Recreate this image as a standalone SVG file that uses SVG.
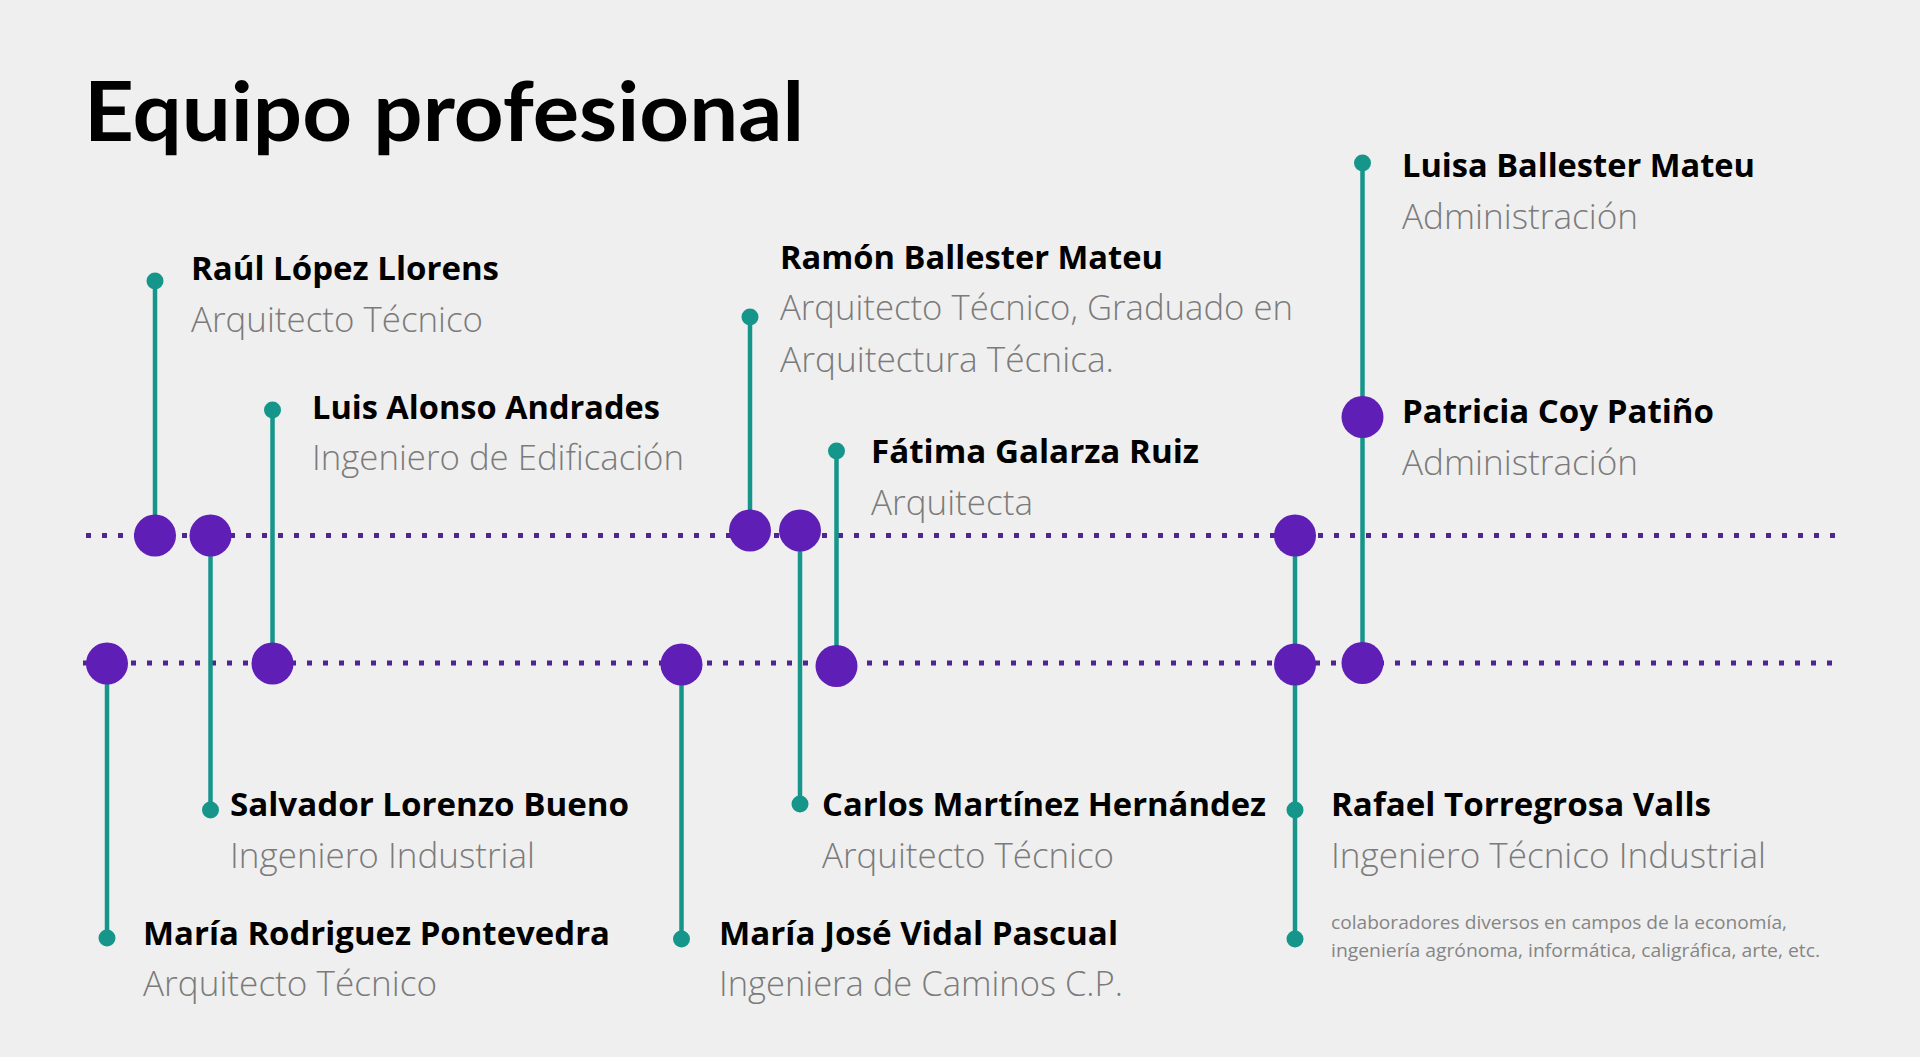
<svg xmlns="http://www.w3.org/2000/svg" width="1920" height="1057" viewBox="0 0 1920 1057">
<style>
.bg{fill:#efefef}
.title{font-family:"Lato","Open Sans","Liberation Sans",sans-serif;font-weight:700;font-size:83px;fill:#000}
.name{font-family:"Open Sans","Noto Sans","Liberation Sans",sans-serif;font-weight:700;font-size:31.5px;fill:#000}
.role{font-family:"Open Sans","Noto Sans","Liberation Sans",sans-serif;font-weight:300;font-size:34px;fill:#7b7b7b}
.note{font-family:"Open Sans","Noto Sans","Liberation Sans",sans-serif;font-weight:400;font-size:18.5px;fill:#858585}
.dots{stroke:#4f2590;stroke-width:5;stroke-dasharray:5 11;fill:none}
.stem{stroke:#16968a;stroke-width:4.5;fill:none}
.big{fill:#5f1eb5}
.small{fill:#16968a}
</style>
<rect class="bg" x="0" y="0" width="1920" height="1057"/>
<text id="title" class="title" x="84" y="141" textLength="720" lengthAdjust="spacingAndGlyphs">Equipo profesional</text>
<g id="connectors">
<line class="dots" x1="86" y1="535.5" x2="1836" y2="535.5"/>
<line class="dots" x1="83" y1="663" x2="1832" y2="663"/>
<line class="stem" x1="155" y1="281" x2="155" y2="535"/>
<line class="stem" x1="210.5" y1="535" x2="210.5" y2="810"/>
<line class="stem" x1="272.5" y1="410" x2="272.5" y2="663"/>
<line class="stem" x1="107" y1="663" x2="107" y2="938"/>
<line class="stem" x1="681.5" y1="664" x2="681.5" y2="939"/>
<line class="stem" x1="750" y1="317" x2="750" y2="530"/>
<line class="stem" x1="800" y1="530" x2="800" y2="804"/>
<line class="stem" x1="836.5" y1="451" x2="836.5" y2="666"/>
<line class="stem" x1="1295" y1="535.5" x2="1295" y2="939"/>
<line class="stem" x1="1362.5" y1="163" x2="1362.5" y2="663"/>
</g>
<g id="node-raul">
<circle class="small" cx="155" cy="281" r="8.5"/>
<circle class="big" cx="155" cy="535.5" r="21"/>
<text class="name" x="191" y="280" textLength="308" lengthAdjust="spacingAndGlyphs">Raúl López Llorens</text>
<text class="role" x="191" y="331.5" textLength="292" lengthAdjust="spacingAndGlyphs">Arquitecto Técnico</text>
</g>
<g id="node-salvador">
<circle class="big" cx="210.5" cy="535.5" r="21"/>
<circle class="small" cx="210.5" cy="810" r="8.5"/>
<text class="name" x="230" y="816" textLength="399" lengthAdjust="spacingAndGlyphs">Salvador Lorenzo Bueno</text>
<text class="role" x="230" y="868" textLength="305" lengthAdjust="spacingAndGlyphs">Ingeniero Industrial</text>
</g>
<g id="node-luis">
<circle class="small" cx="272.5" cy="410" r="8.5"/>
<circle class="big" cx="272.5" cy="663.5" r="21"/>
<text class="name" x="312" y="419" textLength="348" lengthAdjust="spacingAndGlyphs">Luis Alonso Andrades</text>
<text class="role" x="312" y="470" textLength="372" lengthAdjust="spacingAndGlyphs">Ingeniero de Edificación</text>
</g>
<g id="node-maria-rodriguez">
<circle class="big" cx="107" cy="663.5" r="21"/>
<circle class="small" cx="107" cy="938" r="8.5"/>
<text class="name" x="143" y="944.5" textLength="467" lengthAdjust="spacingAndGlyphs">María Rodriguez Pontevedra</text>
<text class="role" x="143" y="996" textLength="294" lengthAdjust="spacingAndGlyphs">Arquitecto Técnico</text>
</g>
<g id="node-maria-jose">
<circle class="big" cx="681.5" cy="664.5" r="21"/>
<circle class="small" cx="681.5" cy="939" r="8.5"/>
<text class="name" x="719" y="944.5" textLength="399" lengthAdjust="spacingAndGlyphs">María José Vidal Pascual</text>
<text class="role" x="719" y="996" textLength="404" lengthAdjust="spacingAndGlyphs">Ingeniera de Caminos C.P.</text>
</g>
<g id="node-ramon">
<circle class="small" cx="750" cy="317" r="8.5"/>
<circle class="big" cx="750" cy="530.5" r="21"/>
<text class="name" x="780" y="268.5" textLength="383" lengthAdjust="spacingAndGlyphs">Ramón Ballester Mateu</text>
<text class="role" x="780" y="320" textLength="513" lengthAdjust="spacingAndGlyphs">Arquitecto Técnico, Graduado en</text>
<text class="role" x="780" y="372" textLength="334" lengthAdjust="spacingAndGlyphs">Arquitectura Técnica.</text>
</g>
<g id="node-carlos">
<circle class="big" cx="800" cy="530.5" r="21"/>
<circle class="small" cx="800" cy="804" r="8.5"/>
<text class="name" x="822" y="816" textLength="444" lengthAdjust="spacingAndGlyphs">Carlos Martínez Hernández</text>
<text class="role" x="822" y="868" textLength="292" lengthAdjust="spacingAndGlyphs">Arquitecto Técnico</text>
</g>
<g id="node-fatima">
<circle class="small" cx="836.5" cy="451" r="8.5"/>
<circle class="big" cx="836.5" cy="666" r="21"/>
<text class="name" x="871" y="463" textLength="328" lengthAdjust="spacingAndGlyphs">Fátima Galarza Ruiz</text>
<text class="role" x="871" y="515" textLength="162" lengthAdjust="spacingAndGlyphs">Arquitecta</text>
</g>
<g id="node-rafael">
<circle class="big" cx="1295" cy="535.5" r="21"/>
<circle class="big" cx="1295" cy="664.5" r="21"/>
<circle class="small" cx="1295" cy="810" r="8.5"/>
<circle class="small" cx="1295" cy="939" r="8.5"/>
<text class="name" x="1331" y="816" textLength="380" lengthAdjust="spacingAndGlyphs">Rafael Torregrosa Valls</text>
<text class="role" x="1331" y="868" textLength="435" lengthAdjust="spacingAndGlyphs">Ingeniero Técnico Industrial</text>
<text class="note" x="1331" y="928.5" textLength="456" lengthAdjust="spacingAndGlyphs">colaboradores diversos en campos de la economía,</text>
<text class="note" x="1331" y="957" textLength="489" lengthAdjust="spacingAndGlyphs">ingeniería agrónoma, informática, caligráfica, arte, etc.</text>
</g>
<g id="node-luisa">
<circle class="small" cx="1362.5" cy="163" r="8.5"/>
<circle class="big" cx="1362.5" cy="663" r="21"/>
<text class="name" x="1402" y="177" textLength="353" lengthAdjust="spacingAndGlyphs">Luisa Ballester Mateu</text>
<text class="role" x="1402" y="229" textLength="236" lengthAdjust="spacingAndGlyphs">Administración</text>
</g>
<g id="node-patricia">
<circle class="big" cx="1362.5" cy="417" r="21"/>
<text class="name" x="1402" y="423" textLength="312" lengthAdjust="spacingAndGlyphs">Patricia Coy Patiño</text>
<text class="role" x="1402" y="475" textLength="236" lengthAdjust="spacingAndGlyphs">Administración</text>
</g>
</svg>
